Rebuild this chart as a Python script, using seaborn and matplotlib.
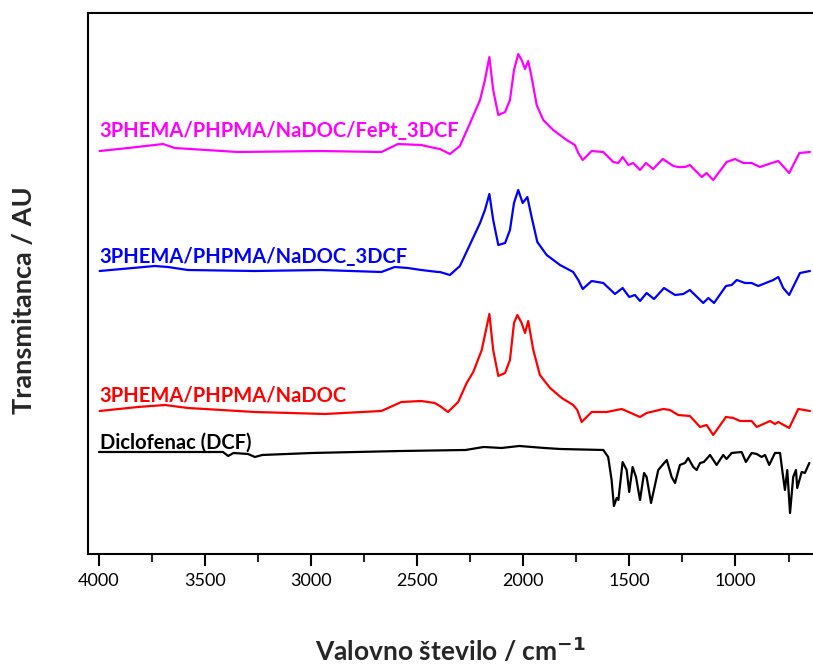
import numpy as np
import pandas as pd
import matplotlib
matplotlib.use("Agg")
import matplotlib.pyplot as plt
import seaborn as sns

# ---- data (wavenumber in cm^-1, transmittance in arbitrary units, offset per spectrum) ----
fept_wn = [3997, 3863, 3698, 3643, 3345, 2954, 2669, 2591, 2481, 2418, 2393, 2346, 2299, 2251,
           2204, 2181, 2160, 2142, 2118, 2086, 2063, 2044, 2024, 2008, 1992, 1977, 1961, 1937,
           1906, 1859, 1796, 1757, 1741, 1720, 1678, 1623, 1576, 1552, 1532, 1505, 1482, 1450,
           1422, 1388, 1343, 1293, 1270, 1238, 1215, 1159, 1136, 1105, 1042, 1002, 963, 924,
           885, 829, 798, 747, 699, 649]
fept_t = [4.03, 4.06, 4.10, 4.06, 4.02, 4.03, 4.02, 4.10, 4.09, 4.06, 4.05, 4.00, 4.08, 4.31,
          4.54, 4.74, 4.97, 4.64, 4.39, 4.42, 4.54, 4.84, 5.00, 4.94, 4.85, 4.93, 4.77, 4.49,
          4.34, 4.24, 4.14, 4.09, 4.01, 3.94, 4.03, 4.02, 3.92, 3.91, 3.97, 3.89, 3.91, 3.84,
          3.91, 3.85, 3.95, 3.88, 3.87, 3.87, 3.89, 3.77, 3.81, 3.74, 3.92, 3.95, 3.91, 3.91,
          3.87, 3.91, 3.93, 3.81, 4.01, 4.02]

dcf3_wn = [3997, 3737, 3675, 3581, 3266, 2952, 2669, 2606, 2544, 2481, 2402, 2393, 2346, 2299,
           2259, 2204, 2181, 2160, 2142, 2118, 2086, 2063, 2044, 2024, 2003, 1981, 1961, 1934,
           1890, 1827, 1765, 1741, 1720, 1678, 1623, 1568, 1532, 1501, 1474, 1450, 1419, 1384,
           1337, 1285, 1246, 1215, 1152, 1128, 1101, 1045, 1018, 994, 955, 924, 893, 822, 798,
           775, 747, 696, 649]
dcf3_t = [2.83, 2.88, 2.87, 2.84, 2.83, 2.84, 2.82, 2.87, 2.86, 2.84, 2.82, 2.82, 2.79, 2.88,
          3.06, 3.31, 3.44, 3.60, 3.34, 3.09, 3.11, 3.24, 3.51, 3.64, 3.51, 3.57, 3.37, 3.12,
          2.99, 2.89, 2.82, 2.74, 2.65, 2.73, 2.71, 2.60, 2.66, 2.57, 2.59, 2.53, 2.61, 2.55,
          2.66, 2.59, 2.60, 2.64, 2.51, 2.56, 2.51, 2.68, 2.69, 2.74, 2.71, 2.71, 2.68, 2.74, 2.77,
          2.66, 2.59, 2.81, 2.83]

nadoc_wn = [3997, 3816, 3690, 3581, 3266, 2936, 2669, 2575, 2481, 2418, 2393, 2355, 2307, 2267,
            2236, 2196, 2160, 2142, 2118, 2086, 2063, 2044, 2028, 2008, 1992, 1977, 1953, 1922,
            1874, 1819, 1765, 1746, 1725, 1678, 1607, 1536, 1450, 1419, 1340, 1309, 1270, 1215,
            1167, 1136, 1105, 1045, 1010, 979, 924, 900, 837, 814, 798, 747, 704, 649]
nadoc_t = [1.43, 1.47, 1.49, 1.46, 1.42, 1.40, 1.43, 1.52, 1.53, 1.51, 1.48, 1.42, 1.52, 1.71,
           1.82, 2.04, 2.40, 2.04, 1.78, 1.81, 1.94, 2.31, 2.39, 2.31, 2.21, 2.33, 2.04, 1.79,
           1.66, 1.56, 1.49, 1.44, 1.32, 1.42, 1.42, 1.45, 1.37, 1.41, 1.45, 1.44, 1.39, 1.38,
           1.27, 1.29, 1.19, 1.37, 1.36, 1.33, 1.33, 1.27, 1.33, 1.30, 1.32, 1.26, 1.45, 1.43]

dcf_wn = [4000, 3416, 3391, 3366, 3298, 3265, 3231, 2996, 2575, 2272, 2187, 2103, 2019, 1901,
          1827, 1623, 1600, 1584, 1573, 1560, 1552, 1532, 1513, 1501, 1485, 1469, 1450, 1431,
          1419, 1398, 1364, 1324, 1301, 1285, 1262, 1238, 1223, 1199, 1183, 1167, 1149, 1120,
          1089, 1058, 1042, 1018, 971, 951, 924, 900, 877, 861, 841, 814, 790, 778, 767, 756,
          743, 728, 715, 709, 688, 673, 652]
dcf_t = [1.02, 1.02, 0.98, 1.01, 1.00, 0.97, 0.99, 1.01, 1.03, 1.04, 1.07, 1.06, 1.08, 1.06,
         1.05, 1.04, 0.97, 0.74, 0.48, 0.56, 0.54, 0.92, 0.84, 0.62, 0.87, 0.77, 0.54, 0.81,
         0.77, 0.51, 0.84, 0.94, 0.77, 0.71, 0.89, 0.91, 0.96, 0.87, 0.84, 0.91, 0.92, 0.99,
         0.89, 0.99, 0.95, 1.01, 1.02, 0.92, 1.01, 1.00, 0.97, 0.99, 0.89, 1.01, 1.01, 0.81,
         0.64, 0.84, 0.41, 0.77, 0.84, 0.66, 0.82, 0.81, 0.91]

series_names = ["3PHEMA/PHPMA/NaDOC/FePt_3DCF", "3PHEMA/PHPMA/NaDOC_3DCF",
                "3PHEMA/PHPMA/NaDOC", "Diclofenac (DCF)"]
series_colors = ["#FF00FF", "#0000FF", "#FF0000", "#000000"]
label_y = [4.17, 2.91, 1.52, 1.05]
label_x = 3997

xticks_major = [4000, 3500, 3000, 2500, 2000, 1500, 1000]
xticks_minor = [3750, 3250, 2750, 2250, 1750, 1250, 750]

frames = []
for name, wn, t in zip(series_names, [fept_wn, dcf3_wn, nadoc_wn, dcf_wn],
                       [fept_t, dcf3_t, nadoc_t, dcf_t]):
    frames.append(pd.DataFrame({"wn": wn, "t": t, "sample": name}))
df = pd.concat(frames, ignore_index=True)

sns.set_style("ticks")
plt.rcParams["font.family"] = ["Lato", "DejaVu Sans"]

fig = plt.figure(figsize=(8.13, 6.66), dpi=100)
ax = fig.add_axes([0.1086, 0.1682, 0.8914, 0.980 - 0.1682])

sns.lineplot(data=df, x="wn", y="t", hue="sample", hue_order=series_names,
             palette=dict(zip(series_names, series_colors)), estimator=None,
             sort=True, linewidth=1.6, legend=False, ax=ax)

for name, col, ly in zip(series_names, series_colors, label_y):
    ax.text(label_x, ly, name, color=col, fontsize=14.5, fontweight="bold",
            ha="left", va="baseline")

ax.set_xlim(4050.4, 634.7)
ax.set_ylim(0, 5.407)
ax.set_yticks([])
ax.set_xticks(xticks_major)
ax.set_xticks(xticks_minor, minor=True)
ax.set_xticklabels([str(v) for v in xticks_major])
ax.tick_params(axis="x", which="major", direction="out", length=8.5, width=1.5,
               labelsize=13, pad=5, colors="black")
ax.tick_params(axis="x", which="minor", direction="out", length=5.5, width=1.5)

for side in ["left", "bottom", "top"]:
    ax.spines[side].set_visible(True)
    ax.spines[side].set_linewidth(1.5)
    ax.spines[side].set_color("black")
ax.spines["right"].set_visible(False)

ax.set_xlabel("Valovno število / cm$^{\\mathbf{-1}}$", fontsize=19, fontweight="bold",
              labelpad=34)
ax.set_ylabel("Transmitanca / AU", fontsize=19.5, fontweight="bold")
ax.yaxis.set_label_coords(-0.072, 0.47)

fig.savefig("out.png", dpi=100)
